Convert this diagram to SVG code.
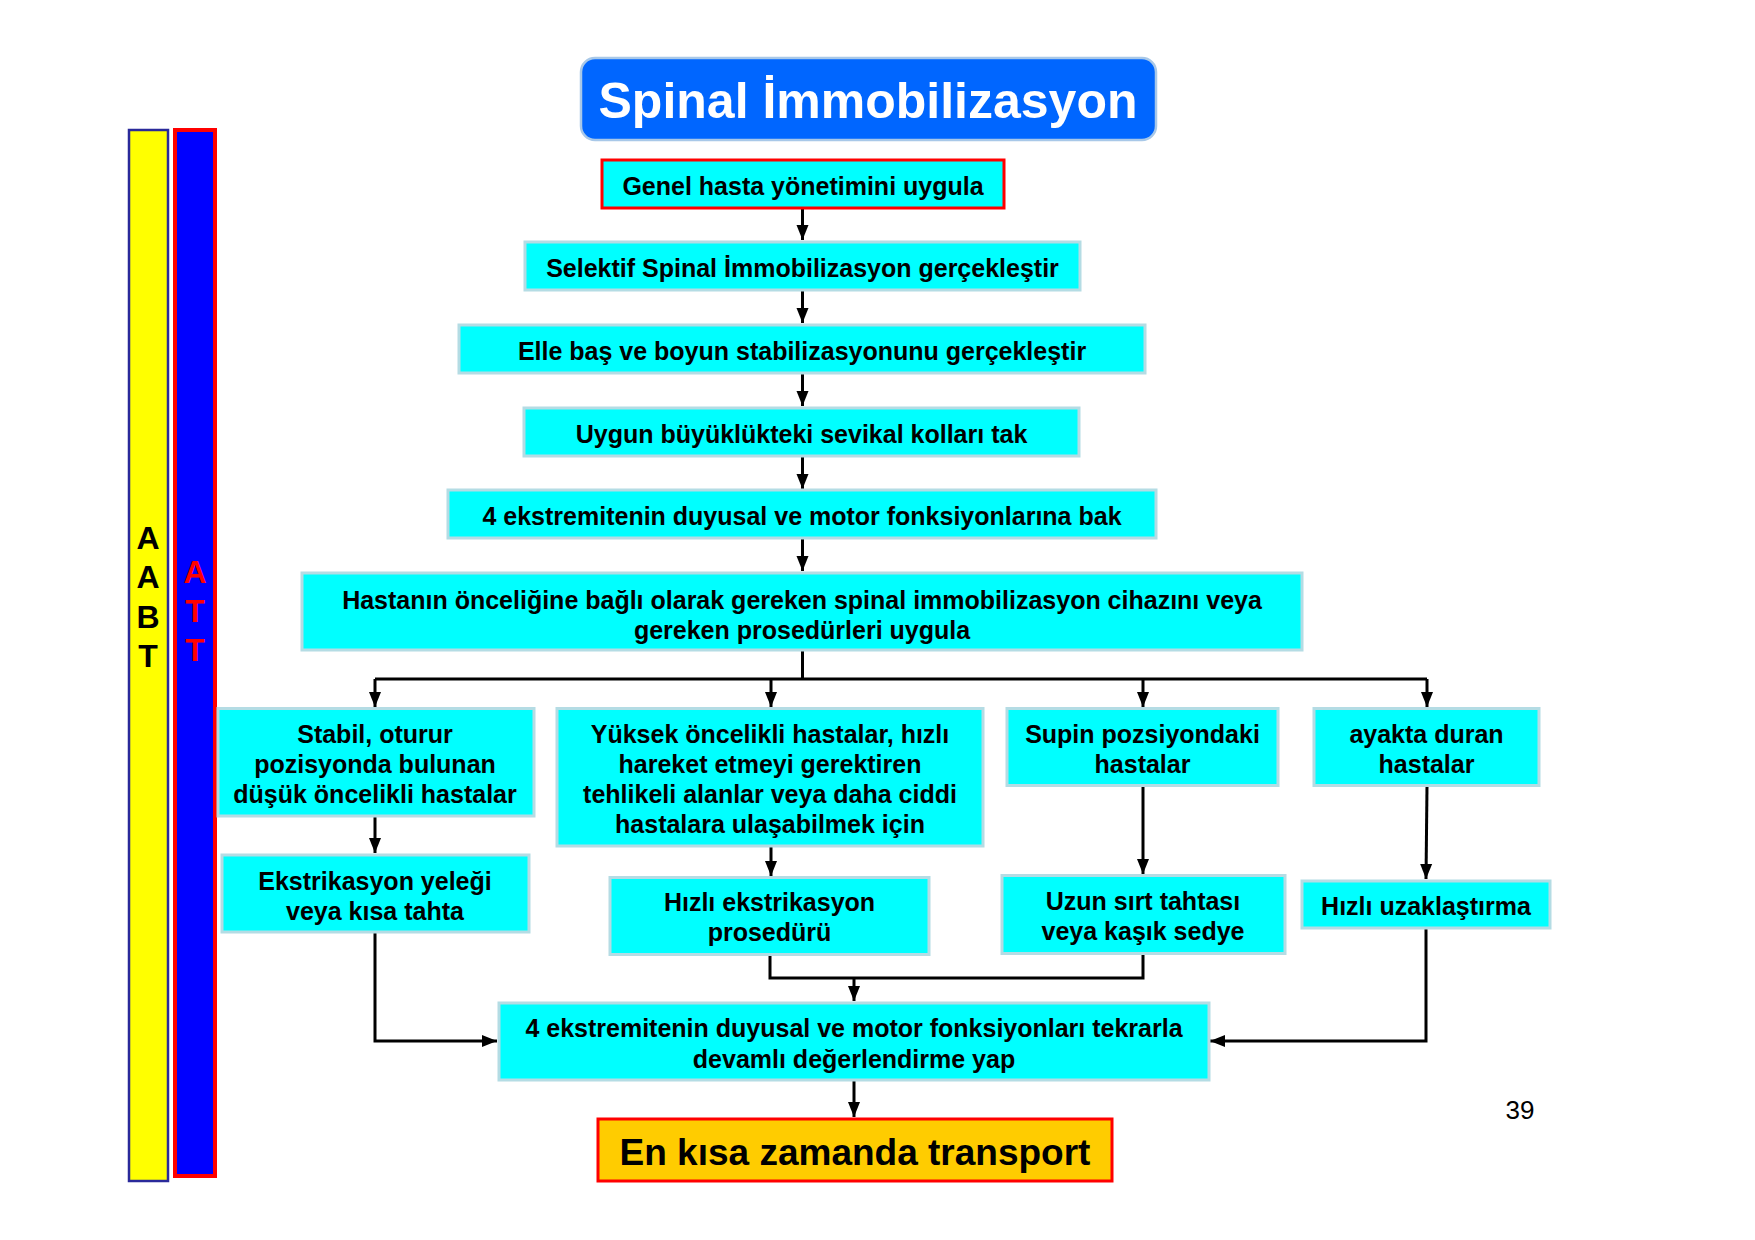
<svg xmlns="http://www.w3.org/2000/svg" width="1755" height="1240" viewBox="0 0 1755 1240">
<style>
.box{fill:#00FFFF;stroke:#B4DCE4;stroke-width:3}
.red{fill:#00FFFF;stroke:#FF0000;stroke-width:3}
.t{font-family:"Liberation Sans",Arial,sans-serif;font-weight:bold;font-size:25px;fill:#000;text-anchor:middle}
.big{font-size:37px}
.side{font-family:"Liberation Sans",Arial,sans-serif;font-weight:bold;font-size:32px;text-anchor:middle}
.c{fill:none;stroke:#000;stroke-width:3}
</style>
<defs>
<marker id="ah" markerUnits="userSpaceOnUse" markerWidth="16" markerHeight="16" viewBox="0 0 16 16" refX="15" refY="8" orient="auto">
<path d="M0,2 L15,8 L0,14 Z" fill="#000"/>
</marker>
</defs>
<rect width="1755" height="1240" fill="#fff"/>

<g id="side-bars">
<rect x="129" y="130" width="39" height="1051" fill="#FFFF00" stroke="#2A2A9A" stroke-width="2.5"/>
<rect x="175" y="130" width="40" height="1046" fill="#0000FF" stroke="#FF0000" stroke-width="4"/>
<text class="side" fill="#000" x="148" y="549">A</text>
<text class="side" fill="#000" x="148" y="588">A</text>
<text class="side" fill="#000" x="148" y="628">B</text>
<text class="side" fill="#000" x="148" y="667">T</text>
<text class="side" fill="#FF0000" x="195" y="583">A</text>
<text class="side" fill="#FF0000" x="195" y="622">T</text>
<text class="side" fill="#FF0000" x="195" y="661">T</text>
</g>

<g id="title">
<rect x="581" y="58" width="575" height="82" rx="14" fill="#0066FF" stroke="#A8C8E8" stroke-width="2.5"/>
<text x="868" y="118" font-family="Liberation Sans, Arial, sans-serif" font-weight="bold" font-size="50" fill="#fff" text-anchor="middle">Spinal İmmobilizasyon</text>
</g>

<g id="connectors">
<line class="c" x1="802.5" y1="208" x2="802.5" y2="240" marker-end="url(#ah)"/>
<line class="c" x1="802.5" y1="290" x2="802.5" y2="323" marker-end="url(#ah)"/>
<line class="c" x1="802.5" y1="373" x2="802.5" y2="406" marker-end="url(#ah)"/>
<line class="c" x1="802.5" y1="456" x2="802.5" y2="489" marker-end="url(#ah)"/>
<line class="c" x1="802.5" y1="538" x2="802.5" y2="571" marker-end="url(#ah)"/>
<line class="c" x1="802.5" y1="650" x2="802.5" y2="679"/>
<line class="c" x1="375" y1="679" x2="1427" y2="679"/>
<line class="c" x1="375" y1="679" x2="375" y2="707" marker-end="url(#ah)"/>
<line class="c" x1="771" y1="679" x2="771" y2="707" marker-end="url(#ah)"/>
<line class="c" x1="1143" y1="679" x2="1143" y2="707" marker-end="url(#ah)"/>
<line class="c" x1="1427" y1="679" x2="1427" y2="707" marker-end="url(#ah)"/>
<line class="c" x1="375" y1="816" x2="375" y2="853" marker-end="url(#ah)"/>
<line class="c" x1="771" y1="846" x2="771" y2="876" marker-end="url(#ah)"/>
<line class="c" x1="1143" y1="786" x2="1143" y2="874" marker-end="url(#ah)"/>
<line class="c" x1="1427" y1="786" x2="1426" y2="879" marker-end="url(#ah)"/>
<polyline class="c" points="770,955 770,978 1143,978 1143,954"/>
<line class="c" x1="854" y1="978" x2="854" y2="1001" marker-end="url(#ah)"/>
<polyline class="c" points="375,932 375,1041 497,1041" marker-end="url(#ah)"/>
<polyline class="c" points="1426,928 1426,1041 1210,1041" marker-end="url(#ah)"/>
<line class="c" x1="854" y1="1080" x2="854" y2="1117" marker-end="url(#ah)"/>
</g>

<g id="n1"><rect class="red" x="602" y="160" width="402" height="48"/><text class="t" x="803" y="195">Genel hasta yönetimini uygula</text></g>
<g id="n2"><rect class="box" x="525" y="242" width="555" height="48"/><text class="t" x="802.5" y="277">Selektif Spinal İmmobilizasyon gerçekleştir</text></g>
<g id="n3"><rect class="box" x="459" y="325" width="686" height="48"/><text class="t" x="802" y="360">Elle baş ve boyun stabilizasyonunu gerçekleştir</text></g>
<g id="n4"><rect class="box" x="524" y="408" width="555" height="48"/><text class="t" x="801.5" y="443">Uygun büyüklükteki sevikal kolları tak</text></g>
<g id="n5"><rect class="box" x="448" y="490" width="708" height="48"/><text class="t" x="802" y="525">4 ekstremitenin duyusal ve motor fonksiyonlarına bak</text></g>
<g id="n6"><rect class="box" x="302" y="573" width="1000" height="77"/><text class="t" x="802" y="609">Hastanın önceliğine bağlı olarak gereken spinal immobilizasyon cihazını veya</text><text class="t" x="802" y="639">gereken prosedürleri uygula</text></g>
<g id="n7"><rect class="box" x="218" y="708.5" width="316" height="107.5"/><text class="t" x="375" y="743">Stabil, oturur</text><text class="t" x="375" y="773">pozisyonda bulunan</text><text class="t" x="375" y="803">düşük öncelikli hastalar</text></g>
<g id="n8"><rect class="box" x="557" y="708.5" width="426" height="137.5"/><text class="t" x="770" y="743">Yüksek öncelikli hastalar, hızlı</text><text class="t" x="770" y="773">hareket etmeyi gerektiren</text><text class="t" x="770" y="803">tehlikeli alanlar veya daha ciddi</text><text class="t" x="770" y="833">hastalara ulaşabilmek için</text></g>
<g id="n9"><rect class="box" x="1007" y="708.5" width="271" height="77"/><text class="t" x="1142.5" y="743">Supin pozsiyondaki</text><text class="t" x="1142.5" y="773">hastalar</text></g>
<g id="n10"><rect class="box" x="1314" y="708.5" width="225" height="77"/><text class="t" x="1426.5" y="743">ayakta duran</text><text class="t" x="1426.5" y="773">hastalar</text></g>
<g id="n11"><rect class="box" x="222" y="855" width="307" height="77"/><text class="t" x="375" y="890">Ekstrikasyon yeleği</text><text class="t" x="375" y="920">veya kısa tahta</text></g>
<g id="n12"><rect class="box" x="610" y="877.5" width="319" height="77"/><text class="t" x="769.5" y="911">Hızlı ekstrikasyon</text><text class="t" x="769.5" y="941">prosedürü</text></g>
<g id="n13"><rect class="box" x="1002" y="875.5" width="283" height="78"/><text class="t" x="1143" y="910">Uzun sırt tahtası</text><text class="t" x="1143" y="940">veya kaşık sedye</text></g>
<g id="n14"><rect class="box" x="1302" y="881" width="248" height="47"/><text class="t" x="1426" y="915">Hızlı uzaklaştırma</text></g>
<g id="n15"><rect class="box" x="499" y="1003" width="710" height="77"/><text class="t" x="854" y="1037">4 ekstremitenin duyusal ve motor fonksiyonları tekrarla</text><text class="t" x="854" y="1068">devamlı değerlendirme yap</text></g>
<g id="n16"><rect x="598" y="1119" width="514" height="62" fill="#FFCC00" stroke="#FF0000" stroke-width="3"/><text class="t big" x="855" y="1165">En kısa zamanda transport</text></g>

<text x="1520" y="1119" font-family="Liberation Sans, Arial, sans-serif" font-size="26" text-anchor="middle" fill="#000">39</text>
</svg>
